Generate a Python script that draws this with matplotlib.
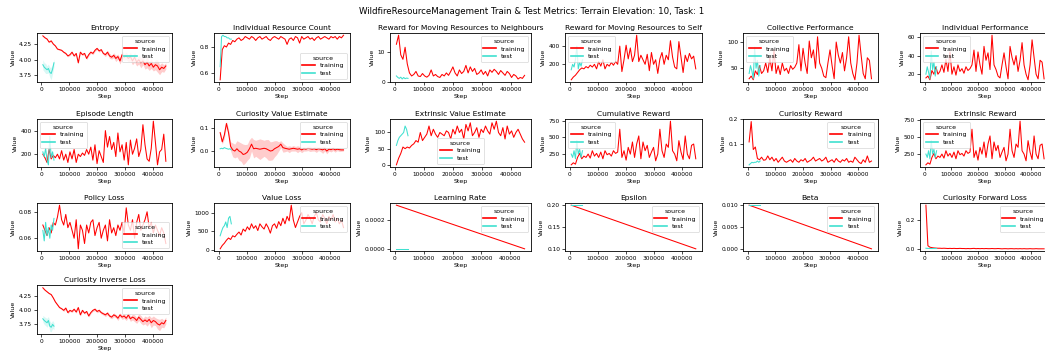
import matplotlib.pyplot as plt

# x grids of the logged summaries
train_steps = list(range(5000, 450000, 7500))   # 60 points
test_steps = list(range(5000, 50000, 5000))      # 9 points
sched_steps = [5000, 450000]
sched_test_steps = [5000, 45000]

# --- series values ---
entropy_train = [4.38, 4.35, 4.33, 4.28, 4.30, 4.25, 4.22, 4.17, 4.16, 4.15,
                 4.12, 4.10, 4.06, 4.08, 4.12, 4.06, 4.10, 3.95, 4.12, 4.08,
                 4.10, 4.02, 4.08, 4.12, 4.10, 4.15, 4.18, 4.14, 4.16, 4.10,
                 4.08, 4.12, 4.06, 4.04, 4.07, 4.02, 4.05, 3.98, 4.08, 4.04,
                 4.06, 4.02, 4.05, 3.98, 4.04, 3.96, 4.00, 3.95, 3.98, 3.92,
                 3.96, 3.90, 3.94, 3.88, 3.92, 3.90, 3.84, 3.88, 3.86, 3.90]
entropy_train_ci = [0.01, 0.01, 0.01, 0.01, 0.01, 0.01, 0.01, 0.01, 0.01, 0.01,
                    0.015, 0.015, 0.015, 0.015, 0.015, 0.015, 0.015, 0.015, 0.015, 0.015,
                    0.02, 0.02, 0.02, 0.02, 0.02, 0.02, 0.02, 0.02, 0.02, 0.02,
                    0.03, 0.03, 0.04, 0.03, 0.04, 0.05, 0.04, 0.05, 0.06, 0.05,
                    0.06, 0.05, 0.07, 0.06, 0.08, 0.06, 0.07, 0.08, 0.06, 0.07,
                    0.09, 0.07, 0.08, 0.06, 0.08, 0.10, 0.08, 0.07, 0.06, 0.05]
entropy_test = [3.92, 3.88, 3.86, 3.84, 3.86, 3.80, 3.78, 3.85, 3.95]
entropy_test_ci = [0.08, 0.07, 0.08, 0.06, 0.07, 0.08, 0.10, 0.07, 0.06]

irc_train = [0.55, 0.78, 0.81, 0.80, 0.83, 0.82, 0.85, 0.84, 0.86, 0.87,
             0.85, 0.86, 0.88, 0.87, 0.86, 0.88, 0.87, 0.85, 0.87, 0.88,
             0.86, 0.87, 0.88, 0.86, 0.85, 0.87, 0.88, 0.87, 0.86, 0.88,
             0.87, 0.86, 0.82, 0.86, 0.87, 0.85, 0.88, 0.87, 0.83, 0.88,
             0.86, 0.87, 0.88, 0.86, 0.87, 0.85, 0.87, 0.88, 0.86, 0.87,
             0.88, 0.87, 0.86, 0.88, 0.87, 0.88, 0.86, 0.88, 0.87, 0.89]
irc_test = [0.65, 0.88, 0.89, 0.88, 0.88, 0.87, 0.87, 0.86, 0.86]

neigh_train = [12.5, 15.5, 9.0, 7.5, 11.5, 6.0, 3.0, 2.0, 2.5, 3.5,
               2.0, 1.8, 2.8, 2.0, 1.6, 2.2, 4.0, 2.0, 2.5, 1.8,
               1.5, 2.5, 2.0, 3.0, 2.2, 3.5, 5.0, 3.0, 2.0, 4.0,
               2.8, 3.5, 5.5, 3.0, 5.0, 3.5, 4.5, 2.5, 3.0, 4.0,
               2.5, 3.5, 2.0, 4.0, 3.2, 4.2, 3.5, 2.5, 3.8, 3.0,
               2.2, 3.5, 2.8, 1.5, 2.5, 2.0, 1.0, 1.5, 1.2, 2.2]
neigh_test = [2.0, 1.5, 1.2, 1.6, 1.0, 1.5, 1.1, 1.3, 1.2]

self_train = [30, 60, 80, 110, 140, 160, 150, 175, 160, 190,
              170, 200, 150, 230, 180, 250, 150, 200, 180, 220,
              190, 230, 200, 400, 120, 250, 410, 260, 380, 230,
              300, 520, 230, 300, 250, 200, 310, 130, 330, 200,
              250, 100, 260, 330, 200, 300, 250, 460, 280, 170,
              150, 450, 280, 110, 300, 230, 320, 260, 290, 150]
self_test = [140, 200, 170, 250, 400, 150, 220, 180, 250]

coll_train = [30, 35, 28, 45, 38, 55, 40, 45, 60, 42,
              70, 45, 85, 40, 55, 38, 60, 45, 50, 40,
              55, 48, 52, 60, 95, 45, 88, 60, 40, 102,
              70, 85, 50, 110, 60, 50, 35, 32, 60, 85,
              55, 30, 100, 75, 60, 80, 45, 70, 110, 60,
              40, 28, 60, 113, 75, 40, 30, 70, 65, 30]
coll_test = [40, 55, 45, 30, 90, 50, 65, 35, 55]

indiv_train = [16, 18, 14, 24, 20, 28, 20, 23, 30, 22,
               36, 23, 44, 20, 28, 19, 30, 23, 26, 21,
               28, 24, 26, 30, 46, 23, 44, 30, 20, 50,
               35, 43, 25, 62, 30, 25, 18, 16, 30, 43,
               28, 15, 50, 38, 30, 40, 23, 35, 54, 30,
               20, 14, 30, 57, 38, 20, 15, 35, 33, 15]
indiv_test = [20, 28, 22, 15, 45, 25, 33, 18, 28]

eplen_train = [200, 170, 130, 240, 160, 190, 170, 200, 160, 230,
               150, 200, 130, 220, 160, 240, 130, 200, 180, 210,
               190, 240, 200, 260, 150, 280, 120, 230, 180, 130,
               400, 260, 350, 240, 300, 180, 380, 220, 280, 150,
               300, 110, 320, 200, 250, 330, 180, 240, 450, 280,
               160, 140, 250, 480, 300, 110, 220, 240, 370, 140]
eplen_test = [220, 180, 250, 150, 110, 350, 170, 220, 150]

cve_train = [0.08, 0.04, 0.07, 0.12, 0.08, 0.02, 0.005, 0.0, 0.01, 0.0,
             -0.005, -0.015, -0.012, -0.005, 0.01, 0.03, 0.01, 0.012, 0.01, 0.008,
             0.01, 0.012, 0.01, 0.005, 0.0, 0.002, 0.01, 0.015, 0.02, 0.03,
             0.015, 0.012, 0.01, 0.008, 0.01, 0.012, 0.01, 0.008, 0.01, 0.005,
             0.01, 0.008, 0.012, 0.01, 0.008, 0.01, 0.006, 0.01, 0.008, 0.005,
             0.01, 0.0, 0.008, 0.006, 0.01, 0.005, 0.008, 0.006, 0.005, 0.005]
cve_train_ci = [0.01, 0.01, 0.015, 0.01, 0.015, 0.02, 0.03, 0.03, 0.035, 0.04,
                0.04, 0.045, 0.04, 0.035, 0.04, 0.03, 0.04, 0.035, 0.04, 0.045,
                0.04, 0.035, 0.04, 0.045, 0.04, 0.04, 0.035, 0.03, 0.02, 0.015,
                0.02, 0.015, 0.01, 0.015, 0.01, 0.012, 0.01, 0.015, 0.01, 0.012,
                0.01, 0.008, 0.01, 0.012, 0.008, 0.01, 0.012, 0.008, 0.01, 0.015,
                0.01, 0.012, 0.008, 0.01, 0.008, 0.01, 0.006, 0.008, 0.006, 0.005]
cve_test = [0.01, 0.012, 0.01, 0.015, 0.012, 0.01, 0.008, 0.01, 0.005]

eve_train = [0, 20, 35, 55, 50, 55, 52, 60, 65, 75,
             70, 100, 75, 85, 95, 120, 90, 110, 95, 85,
             100, 95, 90, 105, 100, 80, 110, 95, 120, 100,
             110, 80, 125, 105, 130, 90, 100, 115, 85, 110,
             100, 120, 105, 95, 130, 110, 135, 100, 90, 115,
             80, 120, 95, 105, 85, 100, 110, 95, 80, 70]
eve_test = [60, 75, 85, 90, 95, 100, 120, 110, 90]

cum_train = [90, 120, 100, 200, 260, 180, 220, 200, 250, 190,
             300, 220, 260, 200, 280, 180, 300, 240, 260, 220,
             300, 260, 280, 620, 200, 300, 160, 350, 250, 430,
             200, 400, 520, 180, 430, 300, 380, 200, 280, 350,
             150, 250, 620, 300, 200, 400, 350, 740, 300, 250,
             150, 450, 280, 170, 520, 250, 180, 380, 400, 180]
cum_test = [250, 200, 300, 180, 450, 250, 320, 200, 300]

cur_rew_train = [0.11, 0.19, 0.08, 0.09, 0.045, 0.04, 0.05, 0.038, 0.04, 0.055,
                 0.04, 0.05, 0.035, 0.045, 0.03, 0.04, 0.05, 0.035, 0.03, 0.035,
                 0.04, 0.03, 0.045, 0.035, 0.03, 0.04, 0.035, 0.045, 0.03, 0.035,
                 0.04, 0.05, 0.035, 0.04, 0.045, 0.035, 0.04, 0.05, 0.03, 0.035,
                 0.04, 0.03, 0.045, 0.035, 0.03, 0.04, 0.035, 0.045, 0.03, 0.035,
                 0.03, 0.05, 0.04, 0.03, 0.025, 0.04, 0.03, 0.055, 0.03, 0.035]
cur_rew_test = [0.02, 0.025, 0.03, 0.028, 0.03, 0.03, 0.035, 0.03, 0.035]

ext_train = [85, 115, 95, 195, 255, 175, 215, 195, 245, 185,
             295, 215, 255, 195, 275, 175, 295, 235, 255, 215,
             295, 255, 275, 615, 195, 295, 155, 345, 245, 425,
             195, 395, 515, 175, 425, 295, 375, 195, 275, 345,
             145, 245, 615, 295, 195, 395, 345, 735, 295, 245,
             145, 445, 275, 165, 515, 245, 175, 375, 395, 175]
ext_test = [245, 195, 295, 175, 445, 245, 315, 195, 295]

pol_train = [0.070, 0.066, 0.062, 0.068, 0.064, 0.072, 0.070, 0.076, 0.085, 0.074,
             0.070, 0.078, 0.068, 0.072, 0.066, 0.060, 0.074, 0.052, 0.070, 0.066,
             0.056, 0.070, 0.064, 0.072, 0.074, 0.062, 0.068, 0.072, 0.060, 0.066,
             0.070, 0.058, 0.074, 0.064, 0.068, 0.062, 0.070, 0.066, 0.072, 0.064,
             0.083, 0.070, 0.066, 0.074, 0.060, 0.072, 0.078, 0.066, 0.070, 0.074,
             0.080, 0.068, 0.072, 0.064, 0.070, 0.066, 0.062, 0.068, 0.064, 0.056]
pol_test = [0.066, 0.058, 0.072, 0.062, 0.068, 0.060, 0.070, 0.066, 0.075]

vloss_train = [30, 120, 180, 260, 320, 280, 380, 350, 420, 480,
               400, 560, 500, 620, 540, 700, 580, 650, 520, 700,
               620, 560, 700, 600, 450, 650, 700, 580, 760, 650,
               850, 700, 900, 780, 1200, 800, 600, 750, 900, 1000,
               700, 800, 950, 850, 700, 900, 1000, 800, 750, 950,
               850, 700, 900, 800, 950, 750, 850, 700, 800, 600]
vloss_test = [380, 500, 600, 650, 750, 600, 850, 900, 700]

lr_train = [0.0003, 0.0]
lr_test = [0.0, 0.0]
eps_train = [0.2, 0.1]
eps_test = [0.2, 0.2]
beta_train = [0.01, 0.0]
beta_test = [0.01, 0.01]

cfl_train = [0.30, 0.025, 0.015, 0.012, 0.01, 0.009, 0.008, 0.008, 0.007, 0.008,
             0.007, 0.006, 0.007, 0.006, 0.007, 0.006, 0.006, 0.007, 0.006, 0.006,
             0.005, 0.006, 0.005, 0.006, 0.007, 0.005, 0.006, 0.005, 0.006, 0.005,
             0.006, 0.005, 0.005, 0.006, 0.005, 0.005, 0.006, 0.005, 0.004, 0.005,
             0.005, 0.004, 0.005, 0.005, 0.004, 0.005, 0.004, 0.005, 0.004, 0.005,
             0.004, 0.004, 0.005, 0.004, 0.004, 0.005, 0.004, 0.004, 0.004, 0.004]
cfl_test = [0.008, 0.007, 0.007, 0.006, 0.006, 0.006, 0.006, 0.006, 0.006]

cil_train = [4.40, 4.36, 4.33, 4.30, 4.28, 4.22, 4.15, 4.10, 4.05, 4.03,
             4.00, 4.04, 3.96, 4.00, 3.98, 4.02, 3.97, 4.05, 3.92, 4.00,
             3.95, 3.98, 3.90, 3.96, 4.00, 4.02, 3.98, 4.00, 3.96, 3.94,
             3.92, 3.95, 3.90, 3.88, 3.92, 3.90, 3.86, 3.92, 3.88, 3.90,
             3.86, 3.92, 3.85, 3.88, 3.86, 3.82, 3.88, 3.84, 3.80, 3.83,
             3.80, 3.84, 3.78, 3.82, 3.80, 3.76, 3.74, 3.78, 3.76, 3.82]
cil_train_ci = [0.01, 0.01, 0.01, 0.01, 0.01, 0.015, 0.015, 0.015, 0.015, 0.015,
                0.02, 0.02, 0.02, 0.02, 0.02, 0.02, 0.02, 0.02, 0.02, 0.02,
                0.02, 0.02, 0.02, 0.02, 0.02, 0.025, 0.025, 0.025, 0.025, 0.025,
                0.03, 0.03, 0.03, 0.03, 0.035, 0.03, 0.04, 0.035, 0.04, 0.045,
                0.04, 0.05, 0.045, 0.05, 0.06, 0.05, 0.06, 0.07, 0.06, 0.07,
                0.08, 0.07, 0.09, 0.08, 0.07, 0.09, 0.10, 0.08, 0.07, 0.06]
cil_test = [3.85, 3.82, 3.80, 3.78, 3.82, 3.72, 3.70, 3.75, 3.72]
cil_test_ci = [0.06, 0.07, 0.07, 0.08, 0.07, 0.09, 0.08, 0.07, 0.06]

# title, (train x, y, ci), (test x, y, ci), y ticks, legend position
panels = [
    ("Entropy", (train_steps, entropy_train, entropy_train_ci), (test_steps, entropy_test, entropy_test_ci), [3.75, 4.0, 4.25], "upper right"),
    ("Individual Resource Count", (train_steps, irc_train, None), (test_steps, irc_test, None), [0.6, 0.8], "lower right"),
    ("Reward for Moving Resources to Neighbours", (train_steps, neigh_train, None), (test_steps, neigh_test, None), [0, 10], "upper right"),
    ("Reward for Moving Resources to Self", (train_steps, self_train, None), (test_steps, self_test, None), [200, 400], "upper left"),
    ("Collective Performance", (train_steps, coll_train, None), (test_steps, coll_test, None), [50, 100], "upper left"),
    ("Individual Performance", (train_steps, indiv_train, None), (test_steps, indiv_test, None), [20, 40, 60], "upper left"),
    ("Episode Length", (train_steps, eplen_train, None), (test_steps, eplen_test, None), [200, 400], "upper left"),
    ("Curiosity Value Estimate", (train_steps, cve_train, cve_train_ci), (test_steps, cve_test, None), [0.0, 0.1], "upper right"),
    ("Extrinsic Value Estimate", (train_steps, eve_train, None), (test_steps, eve_test, None), [0, 50, 100], "lower center"),
    ("Cumulative Reward", (train_steps, cum_train, None), (test_steps, cum_test, None), [250, 500, 750], "upper left"),
    ("Curiosity Reward", (train_steps, cur_rew_train, None), (test_steps, cur_rew_test, None), [0.1, 0.2], "upper right"),
    ("Extrinsic Reward", (train_steps, ext_train, None), (test_steps, ext_test, None), [250, 500, 750], "upper left"),
    ("Policy Loss", (train_steps, pol_train, None), (test_steps, pol_test, None), [0.06, 0.08], "lower right"),
    ("Value Loss", (train_steps, vloss_train, None), (test_steps, vloss_test, None), [0, 500, 1000], "upper right"),
    ("Learning Rate", (sched_steps, lr_train, None), (sched_test_steps, lr_test, None), [0.0, 0.0002], "upper right"),
    ("Epsilon", (sched_steps, eps_train, None), (sched_test_steps, eps_test, None), [0.10, 0.15, 0.20], "upper right"),
    ("Beta", (sched_steps, beta_train, None), (sched_test_steps, beta_test, None), [0.0, 0.005, 0.01], "upper right"),
    ("Curiosity Forward Loss", (train_steps, cfl_train, None), (test_steps, cfl_test, None), [0.0, 0.2], "upper right"),
    ("Curiosity Inverse Loss", (train_steps, cil_train, cil_train_ci), (test_steps, cil_test, cil_test_ci), [3.75, 4.0, 4.25], "upper right"),
]

x_ticks = [0, 100000, 200000, 300000, 400000]
colors = {"training": "red", "test": "turquoise"}

W, H = 1045, 354
fig = plt.figure(figsize=(W / 100, H / 100), dpi=100)

# axes boxes in pixels (last column runs up to the right edge)
col_left = [36.7, 214, 390, 565, 743, 920]
col_width = [135.3, 135.7, 141, 137, 134.6, 130]
row_top = [33, 119, 203, 285]
row_height = [49, 48, 48, 49]

for k, (title, train, test, yticks, loc) in enumerate(panels):
    r, c = divmod(k, 6)
    left, w = col_left[c], col_width[c]
    top, h = row_top[r], row_height[r]
    ax = fig.add_axes([left / W, 1 - (top + h) / H, w / W, h / H])

    for name, (xs, ys, ci) in (("training", train), ("test", test)):
        if ci is not None:
            lo = [y - e for y, e in zip(ys, ci)]
            hi = [y + e for y, e in zip(ys, ci)]
            ax.fill_between(xs, lo, hi, color=colors[name], alpha=0.2, lw=0)
        ax.plot(xs, ys, color=colors[name], lw=0.75, label=name)

    ax.set_xticks(x_ticks)
    ax.set_yticks(yticks)
    ax.tick_params(labelsize=4.2, length=2, width=0.5, pad=1.5)
    for sp in ax.spines.values():
        sp.set_linewidth(0.6)
    ax.set_title(title, fontsize=5.4, pad=2.5)
    ax.set_xlabel("Step", fontsize=4.5, labelpad=1.5)
    ax.set_ylabel("Value", fontsize=4.5, labelpad=2)

    leg = ax.legend(title="source", loc=loc, fontsize=4.5, title_fontsize=4.5,
                    handlelength=2, borderpad=0.4, labelspacing=0.4, frameon=True)
    leg.get_frame().set_linewidth(0.5)
    for line in leg.get_lines():
        line.set_linewidth(1.2)

fig.suptitle("WildfireResourceManagement Train & Test Metrics: Terrain Elevation: 10, Task: 1",
             x=0.509, y=1 - 12 / H, va="center", fontsize=6.2)

fig.savefig("out.png", dpi=100)
